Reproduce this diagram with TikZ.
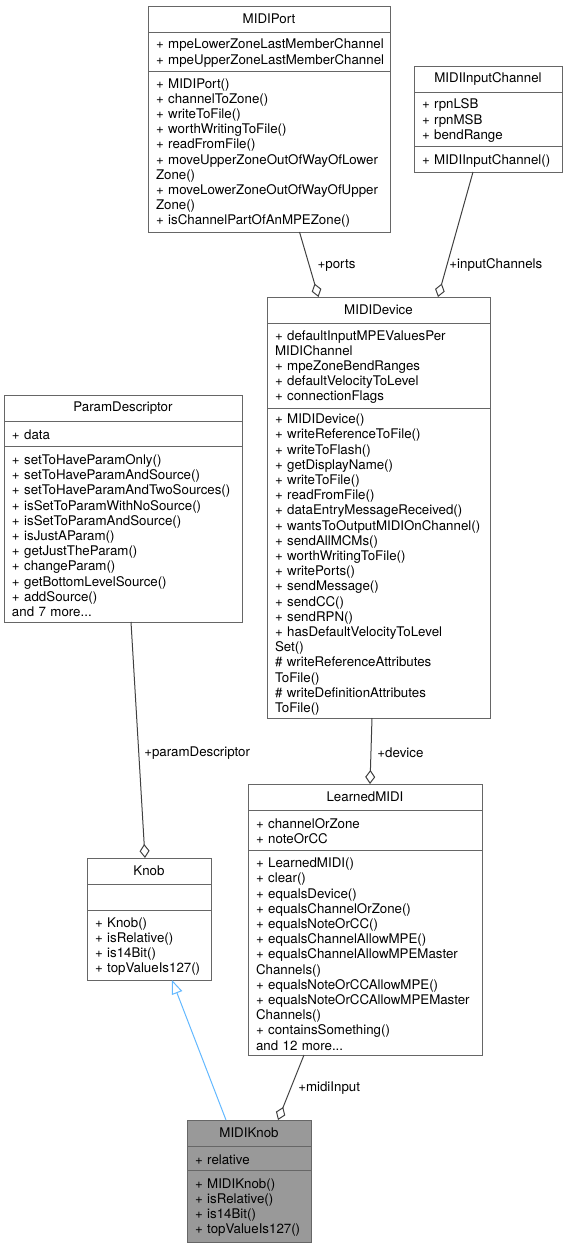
\documentclass[tikz,border=0pt]{standalone}
\usepackage{fontspec}
\setmainfont{TeX Gyre Heros}
\usetikzlibrary{positioning,arrows.meta}

\definecolor{boxgray}{HTML}{666666}
\definecolor{edgegray}{HTML}{404040}
\definecolor{inhblue}{HTML}{63B8FF}
\definecolor{focusgray}{HTML}{999999}

\newcommand{\umlfont}{\fontsize{13.3}{15.2}\selectfont\hyphenpenalty=10000 }

\tikzset{
  classhead/.style={draw=boxgray, fill=white, line width=1pt, outer sep=0pt, inner sep=0pt,
    minimum height=26pt, anchor=north west, font=\umlfont},
  classpart/.style={draw=boxgray, fill=white, line width=1pt, outer sep=0pt, inner xsep=8pt,
    inner ysep=0pt, align=left, font=\umlfont, execute at begin node={\rule{0pt}{13pt}}},
  usage/.style={draw=edgegray, line width=1pt, -{Diamond[open, length=14pt, width=10pt]}},
  inherit/.style={draw=inhblue, line width=1pt, -{Triangle[open, length=14pt, width=11pt]}},
  edgelabel/.style={anchor=west, inner sep=0pt, font=\umlfont},
}

\begin{document}
\begin{tikzpicture}[x=1pt, y=-1pt]
\useasboundingbox (0,0) rectangle (567,1248);

% MIDIPort
\node[classhead, minimum width=242pt] (porthead) at (148,6) {MIDIPort};
\node[classpart, below=0pt of porthead, text width=226pt, minimum height=39pt] (portattr)
  {+~mpeLowerZoneLastMemberChannel\\+~mpeUpperZoneLastMemberChannel};
\node[classpart, below=0pt of portattr, text width=226pt, minimum height=161pt] (portops)
  {+~MIDIPort()\\+~channelToZone()\\+~writeToFile()\\+~worthWritingToFile()\\+~readFromFile()\\
   +~moveUpperZoneOutOfWayOfLower\\Zone()\\+~moveLowerZoneOutOfWayOfUpper\\Zone()\\
   +~isChannelPartOfAnMPEZone()};

% MIDIInputChannel
\node[classhead, minimum width=148pt] (chanhead) at (414,66) {MIDIInputChannel};
\node[classpart, below=0pt of chanhead, text width=132pt, minimum height=54pt] (chanattr)
  {+~rpnLSB\\+~rpnMSB\\+~bendRange};
\node[classpart, below=0pt of chanattr, text width=132pt, minimum height=26pt] (chanops)
  {+~MIDIInputChannel()};

% MIDIDevice
\node[classhead, minimum width=223pt] (devhead) at (267,297) {MIDIDevice};
\node[classpart, below=0pt of devhead, text width=207pt, minimum height=85pt] (devattr)
  {+~defaultInputMPEValuesPer\\MIDIChannel\\+~mpeZoneBendRanges\\+~defaultVelocityToLevel\\
   +~connectionFlags};
\node[classpart, below=0pt of devattr, text width=207pt, minimum height=310pt] (devops)
  {+~MIDIDevice()\\+~writeReferenceToFile()\\+~writeToFlash()\\+~getDisplayName()\\
   +~writeToFile()\\+~readFromFile()\\+~dataEntryMessageReceived()\\
   +~wantsToOutputMIDIOnChannel()\\+~sendAllMCMs()\\+~worthWritingToFile()\\+~writePorts()\\
   +~sendMessage()\\+~sendCC()\\+~sendRPN()\\+~hasDefaultVelocityToLevel\\Set()\\
   \#~writeReferenceAttributes\\ToFile()\\\#~writeDefinitionAttributes\\ToFile()};

% ParamDescriptor
\node[classhead, minimum width=238pt] (parhead) at (4,395) {ParamDescriptor};
\node[classpart, below=0pt of parhead, text width=222pt, minimum height=25pt] (parattr)
  {+~data};
\node[classpart, below=0pt of parattr, text width=222pt, minimum height=176pt] (parops)
  {+~setToHaveParamOnly()\\+~setToHaveParamAndSource()\\+~setToHaveParamAndTwoSources()\\
   +~isSetToParamWithNoSource()\\+~isSetToParamAndSource()\\+~isJustAParam()\\
   +~getJustTheParam()\\+~changeParam()\\+~getBottomLevelSource()\\+~addSource()\\
   and 7 more...};

% LearnedMIDI
\node[classhead, minimum width=234pt] (learnhead) at (248,784) {LearnedMIDI};
\node[classpart, below=0pt of learnhead, text width=218pt, minimum height=40pt] (learnattr)
  {+~channelOrZone\\+~noteOrCC};
\node[classpart, below=0pt of learnattr, text width=218pt, minimum height=205pt] (learnops)
  {+~LearnedMIDI()\\+~clear()\\+~equalsDevice()\\+~equalsChannelOrZone()\\
   +~equalsNoteOrCC()\\+~equalsChannelAllowMPE()\\+~equalsChannelAllowMPEMaster\\
   Channels()\\+~equalsNoteOrCCAllowMPE()\\+~equalsNoteOrCCAllowMPEMaster\\Channels()\\
   +~containsSomething()\\and 12 more...};

% Knob
\node[classhead, minimum width=124pt] (knobhead) at (87,858) {Knob};
\node[classpart, below=0pt of knobhead, text width=108pt, minimum height=26pt,
  execute at begin node={}] (knobattr) {};
\node[classpart, below=0pt of knobattr, text width=108pt, minimum height=70pt] (knobops)
  {+~Knob()\\+~isRelative()\\+~is14Bit()\\+~topValueIs127()};

% MIDIKnob
\node[classhead, fill=focusgray, minimum width=124pt] (mkhead) at (187,1120) {MIDIKnob};
\node[classpart, fill=focusgray, below=0pt of mkhead, text width=108pt, minimum height=24pt] (mkattr)
  {+~relative};
\node[classpart, fill=focusgray, below=0pt of mkattr, text width=108pt, minimum height=72pt] (mkops)
  {+~MIDIKnob()\\+~isRelative()\\+~is14Bit()\\+~topValueIs127()};

% relations
\draw[usage] ([xshift=151.5pt]portops.south west) -- ([xshift=51.5pt]devhead.north west)
  node[edgelabel, pos=.51, xshift=8pt] {+ports};
\draw[usage] ([xshift=59pt]chanops.south west) -- ([xshift=171pt]devhead.north west)
  node[edgelabel, pos=.744, xshift=2pt] {+inputChannels};
\draw[usage] ([xshift=127pt]parops.south west) -- ([xshift=58pt]knobhead.north west)
  node[edgelabel, pos=.555, xshift=5pt] {+paramDescriptor};
\draw[usage] ([xshift=105pt]devops.south west) -- ([xshift=122pt]learnhead.north west)
  node[edgelabel, pos=.53, xshift=6pt] {+device};
\draw[usage] ([xshift=56pt]learnops.south west) -- ([xshift=91pt]mkhead.north west)
  node[edgelabel, pos=.508, xshift=7pt] {+midiInput};
\draw[inherit] ([xshift=39pt]mkhead.north west) -- ([xshift=85pt]knobops.south west);
\end{tikzpicture}
\end{document}
